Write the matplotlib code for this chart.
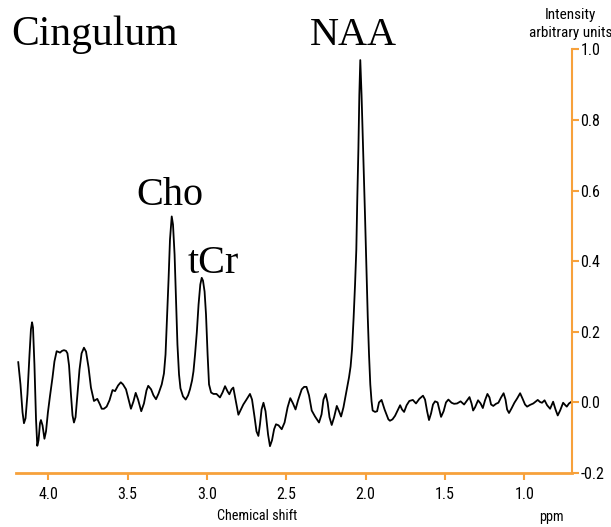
import matplotlib
matplotlib.use("Agg")
import matplotlib.pyplot as plt
from matplotlib import font_manager

# spectrum (chemical shift in ppm, intensity in arbitrary units)
ppm = [4.189, 4.175, 4.162, 4.153, 4.143, 4.131, 4.118, 4.109, 4.102, 4.096,
       4.087, 4.077, 4.069, 4.061, 4.052, 4.046, 4.036, 4.024, 4.014, 4.002,
       3.989, 3.973, 3.961, 3.947, 3.935, 3.926, 3.913, 3.901, 3.888, 3.879,
       3.869, 3.857, 3.847, 3.838, 3.828, 3.816, 3.803, 3.790, 3.775, 3.762,
       3.746, 3.731, 3.712, 3.691, 3.674, 3.663, 3.649, 3.632, 3.614, 3.595,
       3.579, 3.560, 3.543, 3.529, 3.510, 3.494, 3.479, 3.463, 3.449, 3.434,
       3.414, 3.397, 3.381, 3.370, 3.352, 3.337, 3.321, 3.305, 3.285, 3.271,
       3.261, 3.252, 3.242, 3.233, 3.222, 3.214, 3.204, 3.195, 3.186, 3.176,
       3.167, 3.151, 3.134, 3.119, 3.107, 3.094, 3.085, 3.075, 3.064, 3.053,
       3.042, 3.033, 3.025, 3.015, 3.006, 2.996, 2.987, 2.974, 2.959, 2.940,
       2.918, 2.902, 2.886, 2.870, 2.859, 2.845, 2.834, 2.820, 2.802, 2.789,
       2.771, 2.751, 2.729, 2.716, 2.700, 2.688, 2.676, 2.666, 2.656, 2.644,
       2.631, 2.615, 2.603, 2.590, 2.577, 2.565, 2.549, 2.529, 2.511, 2.492,
       2.475, 2.458, 2.442, 2.426, 2.403, 2.388, 2.373, 2.357, 2.340, 2.319,
       2.294, 2.278, 2.266, 2.252, 2.240, 2.228, 2.214, 2.199, 2.182, 2.168,
       2.155, 2.140, 2.119, 2.105, 2.095, 2.086, 2.076, 2.067, 2.059, 2.053,
       2.046, 2.040, 2.034, 2.026, 2.019, 2.010, 2.004, 1.995, 1.987, 1.979,
       1.971, 1.963, 1.956, 1.941, 1.928, 1.916, 1.900, 1.881, 1.857, 1.847,
       1.831, 1.815, 1.799, 1.783, 1.771, 1.758, 1.742, 1.725, 1.703, 1.683,
       1.662, 1.639, 1.626, 1.613, 1.601, 1.588, 1.576, 1.563, 1.547, 1.525,
       1.509, 1.494, 1.479, 1.459, 1.443, 1.424, 1.402, 1.380, 1.361, 1.346,
       1.333, 1.323, 1.311, 1.292, 1.276, 1.262, 1.248, 1.233, 1.220, 1.210,
       1.196, 1.179, 1.164, 1.147, 1.131, 1.119, 1.109, 1.097, 1.081, 1.063,
       1.046, 1.027, 1.012, 0.996, 0.983, 0.964, 0.944, 0.916, 0.901, 0.889,
       0.873, 0.857, 0.838, 0.819, 0.804, 0.790, 0.775, 0.756, 0.744, 0.733,
       0.719, 0.706]
intensity = [0.114, 0.051, -0.028, -0.059, -0.045, 0.023, 0.136, 0.207, 0.227, 0.212,
             0.107, -0.048, -0.123, -0.107, -0.059, -0.050, -0.065, -0.103, -0.082, -0.028,
             0.018, 0.071, 0.116, 0.145, 0.143, 0.141, 0.146, 0.148, 0.146, 0.139,
             0.105, 0.023, -0.037, -0.057, -0.042, 0.023, 0.093, 0.139, 0.155, 0.144,
             0.099, 0.042, 0.004, 0.010, -0.006, -0.018, -0.018, -0.012, 0.006, 0.035,
             0.032, 0.048, 0.057, 0.051, 0.037, 0.008, -0.018, 0.003, 0.027, 0.008,
             -0.025, -0.003, 0.034, 0.047, 0.037, 0.020, 0.009, 0.025, 0.051, 0.082,
             0.136, 0.235, 0.348, 0.461, 0.527, 0.504, 0.419, 0.291, 0.164, 0.079,
             0.040, 0.017, 0.008, 0.020, 0.037, 0.062, 0.088, 0.136, 0.198, 0.277,
             0.334, 0.353, 0.345, 0.314, 0.249, 0.136, 0.051, 0.028, 0.024, 0.024,
             0.014, 0.028, 0.046, 0.031, 0.023, 0.037, 0.042, 0.008, -0.035, -0.023,
             -0.006, 0.008, 0.024, 0.008, -0.042, -0.082, -0.095, -0.062, -0.020, -0.001,
             -0.025, -0.091, -0.124, -0.107, -0.076, -0.062, -0.065, -0.076, -0.057, -0.014,
             0.012, -0.003, -0.020, 0.006, 0.037, 0.044, 0.044, 0.020, -0.023, -0.040,
             -0.057, -0.034, 0.008, 0.024, 0.000, -0.042, -0.064, -0.042, -0.010, -0.025,
             -0.040, -0.014, 0.037, 0.071, 0.102, 0.150, 0.240, 0.334, 0.433, 0.574,
             0.716, 0.871, 0.970, 0.871, 0.764, 0.631, 0.526, 0.376, 0.243, 0.136,
             0.051, 0.003, -0.023, -0.027, -0.025, 0.000, 0.007, -0.020, -0.048, -0.052,
             -0.048, -0.038, -0.023, -0.008, -0.020, -0.027, -0.008, 0.004, 0.007, -0.003,
             0.010, 0.019, 0.008, -0.025, -0.050, -0.031, -0.006, 0.003, 0.000, -0.041,
             -0.025, 0.000, 0.008, -0.001, -0.004, -0.003, 0.003, -0.006, 0.006, 0.015,
             -0.003, -0.023, -0.014, 0.006, -0.003, -0.016, 0.006, 0.024, 0.014, -0.006,
             -0.010, -0.004, -0.001, 0.014, 0.026, 0.008, -0.020, -0.030, -0.017, -0.001,
             0.011, 0.026, 0.011, -0.006, -0.012, -0.007, -0.003, 0.007, 0.001, -0.001,
             0.006, -0.008, -0.018, 0.002, -0.020, -0.037, -0.023, -0.001, -0.007, -0.012,
             -0.003, 0.001]

xticks = [4.0, 3.5, 3.0, 2.5, 2.0, 1.5, 1.0]
yticks = [-0.2, 0.0, 0.2, 0.4, 0.6, 0.8, 1.0]

orange = "#f7a13b"
serif = ["Liberation Serif", "DejaVu Serif"]

# the axis texts are in a narrow sans; use one if there is one, else plain Liberation Sans a bit smaller
fonts = font_manager.fontManager.ttflist
names = {f.name for f in fonts}
sans = None
for n in ["Liberation Sans Narrow", "Arial Narrow", "Roboto Condensed", "Open Sans Condensed"]:
    if n in names:
        sans = dict(family=n)
        tick_fs, lab_fs, title_fs = 11.5, 11, 10.3
        break
if sans is None and any(f.name == "DejaVu Sans" and f.stretch == "condensed" for f in fonts):
    sans = dict(family="DejaVu Sans", stretch="condensed")
    tick_fs, lab_fs, title_fs = 10.5, 10, 9.5
if sans is None:
    sans = dict(family="Liberation Sans")
    tick_fs, lab_fs, title_fs = 10, 9, 9

fig = plt.figure(figsize=(6.11, 5.27), dpi=100)
ax = fig.add_axes([0.027, 0.1025, 0.9092, 0.8036])

ax.plot(ppm, intensity, color="black", lw=1.3)

ax.set_xlim(4.2, 0.7)
ax.set_ylim(-0.2, 1.0)
ax.set_xticks(xticks)
ax.set_xticklabels([f"{t:.1f}" for t in xticks], fontsize=tick_fs, **sans)
ax.yaxis.tick_right()
ax.set_yticks(yticks)
ax.set_yticklabels([f"{t:.1f}" for t in yticks], fontsize=tick_fs, **sans)

ax.spines["top"].set_visible(False)
ax.spines["left"].set_visible(False)
ax.spines["bottom"].set_color(orange)
ax.spines["bottom"].set_linewidth(2)
ax.spines["right"].set_color(orange)
ax.spines["right"].set_linewidth(1.5)
ax.tick_params(axis="x", colors=orange, labelcolor="black", direction="out", length=5, width=1.5, pad=5)
ax.tick_params(axis="y", colors=orange, labelcolor="black", direction="out", length=5, width=1.5, pad=1)

# axis titles
fig.text(0.421, 0.021, "Chemical shift", fontsize=title_fs, ha="center", va="center", **sans)
fig.text(0.903, 0.019, "ppm", fontsize=title_fs, ha="center", va="center", **sans)
fig.text(0.934, 0.9715, "Intensity", fontsize=lab_fs, ha="center", va="center", **sans)
fig.text(0.934, 0.937, "arbitrary units", fontsize=lab_fs, ha="center", va="center", **sans)

# peak labels
fig.text(0.155, 0.9146, "Cingulum", family=serif, fontsize=30, ha="center", va="baseline")
fig.text(0.578, 0.9146, "NAA", family=serif, fontsize=29, ha="center", va="baseline")
fig.text(0.278, 0.611, "Cho", family=serif, fontsize=29, ha="center", va="baseline")
fig.text(0.349, 0.482, "tCr", family=serif, fontsize=29, ha="center", va="baseline")

fig.savefig("out.png", dpi=100)
